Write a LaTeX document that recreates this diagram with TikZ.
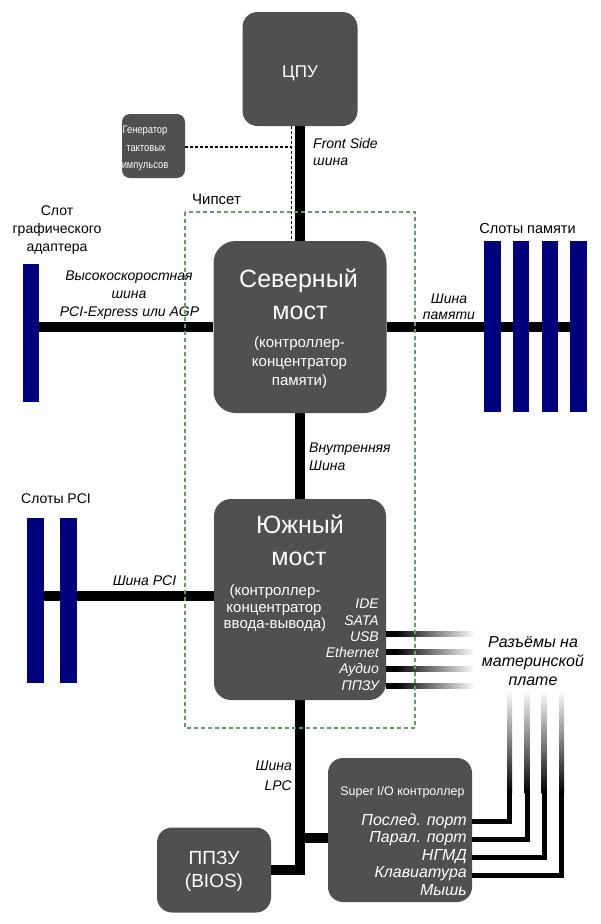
\documentclass[tikz,border=0pt]{standalone}
\usepackage{fontspec}
\setmainfont{Liberation Sans}
\newfontfamily\narrowfont[FakeStretch=0.85]{Liberation Sans}
\usetikzlibrary{calc}
\definecolor{chipgray}{RGB}{80,80,80}
\definecolor{slotblue}{RGB}{0,0,125}
\definecolor{chipsetgreen}{RGB}{95,160,95}
\pgfdeclarehorizontalshading{fadeR}{100bp}{color(0bp)=(black); color(30bp)=(black); color(75bp)=(white); color(100bp)=(white)}
\pgfdeclarelayer{bg}
\pgfsetlayers{bg,main}
\newcommand{\fsz}[1]{\fontsize{#1}{#1}\selectfont}
\begin{document}
\begin{tikzpicture}[x=1pt,y=-1pt,
  chip/.style={fill=chipgray, draw=none, rounded corners=#1, inner sep=0pt},
  chip/.default=15pt,
  slot/.style={fill=slotblue, draw=none, inner sep=0pt, minimum width=16.5pt},
  bus/.style={line width=10.5pt, line cap=butt},
  thinbus/.style={line width=5pt, line join=miter, line cap=butt},
  clockdash/.style={line width=1.2pt, dash pattern=on 3pt off 2pt},
  wt/.style={text=white, inner sep=0pt, anchor=base},
  lab/.style={inner sep=0pt, anchor=base, font=\fsz{14}\itshape},
  plainlab/.style={inner sep=0pt, anchor=base, font=\fsz{14}},
]
\begin{pgfonlayer}{bg}
\fill[white] (0,0) rectangle (600,924);
\end{pgfonlayer}
\useasboundingbox (0,0) rectangle (600,924);

% boxes
\node[chip, minimum width=115pt, minimum height=114pt] (cpu) at (300,69) {};
\node[chip=8pt, minimum width=63pt, minimum height=64pt] (clk) at (153.5,146) {};
\node[chip=22pt, minimum width=173pt, minimum height=172pt] (nb) at (300,327) {};
\node[chip=17pt, minimum width=172pt, minimum height=201pt] (sb) at (300,599.5) {};
\node[chip, minimum width=114pt, minimum height=85pt] (bios) at (214,870) {};
\node[chip, minimum width=144pt, minimum height=144pt] (sio) at (400,830) {};

% slots
\node[slot, minimum height=138pt] (gfx) at (31,333) {};
\foreach \i/\x in {1/492.3,2/521,3/549.8,4/578.7}
  \node[slot, minimum height=171.5pt] (m\i) at (\x,326.5) {};
\node[slot, minimum height=165pt] (p1) at (35.5,600.5) {};
\node[slot, minimum height=165pt] (p2) at (68.5,600.5) {};

% buses
\begin{pgfonlayer}{bg}
\draw[bus] (cpu.south) -- (nb.north);
\draw[bus] (nb.west) -- (gfx.center |- nb.west);
\draw[bus, line width=9.5pt] (nb.east) -- (m4.center |- nb.east);
\draw[bus] (nb.south) -- (sb.north);
\coordinate (pciy) at (0,596);
\draw[bus, line width=9.5pt] (sb.west |- pciy) -- (p1.center |- pciy);
\draw[bus, line join=miter] (sb.south) |- (bios.east);
\coordinate (lpcj) at (300,838);
\draw[bus] (lpcj) -- (sio.west |- lpcj);
\end{pgfonlayer}

% clock lines
\coordinate (clkj) at (291.5,147);
\draw[clockdash] (clk.east |- clkj) -- (clkj);
\draw[clockdash] (cpu.south -| clkj) -- (nb.north -| clkj);

% south bridge connector lines
\foreach \n/\y in {1/634,2/651.5,3/669,4/686} {
  \coordinate (sa\n) at (0,\y-2.5);
  \coordinate (se\n) at (475,\y+2.5);
  \shade[shading=fadeR] (sb.east |- sa\n) rectangle (se\n);
}

% super I/O connector lines
\foreach \n/\x/\y in {1/509.5/821.5, 2/527/839.5, 3/544/857.5, 4/561.5/875.5} {
  \coordinate (vt\n) at (\x-2.5,690);
  \coordinate (vb\n) at (\x+2.5,793);
  \shade[top color=white, bottom color=black] (vt\n) rectangle (vb\n);
  \coordinate (vm\n) at (\x,791);
  \coordinate (hy\n) at (0,\y);
  \draw[thinbus] (vm\n) |- (sio.east |- hy\n);
}

% texts in boxes
\node[wt, font=\fsz{17}] (cput) at (300,77) {ЦПУ};
\node[wt, font=\narrowfont\fsz{11}] (ck1) at (145,133.5) {Генератор};
\node[wt, font=\narrowfont\fsz{11}] (ck2) at (146,151) {тактовых};
\node[wt, font=\narrowfont\fsz{11}] (ck3) at (145,168) {импульсов};

\node[wt, font=\fsz{25}] (nb1) at (298.5,287) {Северный};
\node[wt, font=\fsz{25}] (nb2) at (300,319) {мост};
\node[wt, font=\fsz{15}] (nb3) at (299.5,347) {(контроллер-};
\node[wt, font=\fsz{15}] (nb4) at (299.5,366) {концентратор};
\node[wt, font=\fsz{15}] (nb5) at (299.5,385) {памяти)};

\node[wt, font=\fsz{25}] (sb1) at (300,533) {Южный};
\node[wt, font=\fsz{25}] (sb2) at (299,565) {мост};
\node[wt, font=\fsz{15}] (sb3) at (275,595) {(контроллер-};
\node[wt, font=\fsz{15}] (sb4) at (274,612) {концентратор};
\node[wt, font=\fsz{15}] (sb5) at (275,628.5) {ввода-вывода)};
\foreach \n/\t/\y in {1/IDE/608.5, 2/SATA/625.5, 3/USB/641, 4/Ethernet/657.5, 5/Аудио/673.5, 6/ППЗУ/690}
  \node[wt, anchor=base east, font=\fsz{14}\itshape] (sbl\n) at (379,\y) {\t};

\node[wt, font=\fsz{19}] (bi1) at (214,864) {ППЗУ};
\node[wt, font=\fsz{19}] (bi2) at (214,887) {(BIOS)};

\node[wt, font=\fsz{12.5}] (sio1) at (402.5,795) {Super I/O контроллер};
\foreach \n/\t/\y in {1/Послед. порт/825, 2/Парал. порт/842.5, 3/НГМД/860, 4/Клавиатура/877.5, 5/Мышь/895}
  \node[wt, anchor=base east, font=\fsz{16}\itshape] (siol\n) at (467,\y) {\t};

% labels outside
\node[lab, anchor=base west] (fs1) at (313,148) {Front Side};
\node[lab, anchor=base west] (fs2) at (313,165) {шина};
\node[plainlab, anchor=base west, font=\fsz{15}] (chs) at (192,204) {Чипсет};

\node[plainlab] (gs1) at (57,215) {Слот};
\node[plainlab] (gs2) at (57,233) {графического};
\node[plainlab] (gs3) at (57,251) {адаптера};
\node[lab] (ag1) at (129,280) {Высокоскоростная};
\node[lab] (ag2) at (129,298) {шина};
\node[lab] (ag3) at (129.5,316) {PCI-Express или AGP};

\node[plainlab, font=\fsz{14.5}] (ms) at (527.5,233) {Слоты памяти};
\node[lab] (mb1) at (449,303) {Шина};
\node[lab] (mb2) at (449,319) {памяти};

\node[lab, anchor=base west] (ib1) at (309,452) {Внутренняя};
\node[lab, anchor=base west] (ib2) at (309,470) {Шина};

\node[plainlab] (ps) at (56,503) {Слоты PCI};
\node[lab] (pb) at (144.5,585) {Шина PCI};

\node[lab, font=\fsz{16}\itshape] (mc1) at (533,647) {Разъёмы на};
\node[lab, font=\fsz{16}\itshape] (mc2) at (533,666) {материнской};
\node[lab, font=\fsz{16}\itshape] (mc3) at (533,685) {плате};

\node[lab, anchor=base east] (lpc1) at (292,770) {Шина};
\node[lab, anchor=base east] (lpc2) at (292,790) {LPC};

% chipset frame
\draw[chipsetgreen, line width=1.1pt, dash pattern=on 4pt off 3pt] (185,212) rectangle (415,728);
\end{tikzpicture}
\end{document}
